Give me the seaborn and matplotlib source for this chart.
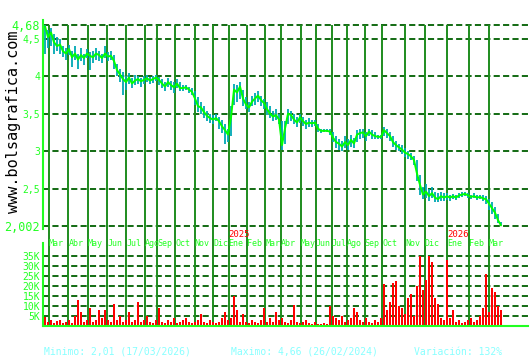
import matplotlib
matplotlib.use("Agg")
import numpy as np
import pandas as pd
import seaborn as sns
import matplotlib.pyplot as plt

# ---------------- data ----------------
close = [4.66, 4.52, 4.58, 4.45, 4.40, 4.42, 4.33, 4.30, 4.36, 4.25,
         4.30, 4.22, 4.28, 4.24, 4.30, 4.27, 4.25, 4.30, 4.28, 4.24,
         4.30, 4.26, 4.27, 4.20, 4.08, 4.02, 3.96, 3.92, 3.98, 3.90,
         3.94, 3.96, 3.93, 3.95, 3.97, 3.94, 3.96, 3.98, 3.95, 3.90,
         3.86, 3.92, 3.88, 3.85, 3.90, 3.84, 3.84, 3.85, 3.82, 3.79,
         3.70, 3.60, 3.58, 3.52, 3.47, 3.44, 3.42, 3.44, 3.40, 3.33,
         3.28, 3.22, 3.45, 3.82, 3.78, 3.86, 3.70, 3.62, 3.58, 3.66,
         3.70, 3.74, 3.68, 3.64, 3.56, 3.50, 3.46, 3.48, 3.42, 3.08,
         3.30, 3.50, 3.48, 3.42, 3.38, 3.45, 3.40, 3.36, 3.38, 3.37,
         3.38, 3.30, 3.27, 3.27, 3.27, 3.26, 3.18, 3.12, 3.10, 3.06,
         3.12, 3.08, 3.15, 3.10, 3.22, 3.24, 3.25, 3.20, 3.26, 3.22,
         3.20, 3.19, 3.19, 3.28, 3.24, 3.20, 3.12, 3.08, 3.05, 3.02,
         2.98, 2.96, 2.93, 2.88, 2.70, 2.55, 2.42, 2.46, 2.40, 2.44,
         2.38, 2.36, 2.40, 2.38, 2.40, 2.38, 2.40, 2.38, 2.41, 2.42,
         2.43, 2.41, 2.39, 2.40, 2.38, 2.39, 2.37, 2.36, 2.30, 2.24,
         2.18, 2.08, 2.01]
high = [4.68, 4.62, 4.64, 4.56, 4.52, 4.50, 4.40, 4.38, 4.42, 4.34,
        4.40, 4.30, 4.38, 4.30, 4.36, 4.32, 4.34, 4.38, 4.34, 4.30,
        4.40, 4.32, 4.34, 4.28, 4.16, 4.10, 4.05, 4.00, 4.04, 3.98,
        4.02, 4.00, 3.98, 4.00, 4.02, 3.99, 4.00, 4.02, 3.99, 3.96,
        3.92, 3.98, 3.94, 3.92, 3.96, 3.92, 3.88, 3.88, 3.86, 3.84,
        3.80, 3.72, 3.66, 3.60, 3.54, 3.50, 3.48, 3.50, 3.46, 3.42,
        3.36, 3.30, 3.60, 3.90, 3.88, 3.92, 3.82, 3.72, 3.66, 3.74,
        3.78, 3.80, 3.74, 3.70, 3.66, 3.60, 3.54, 3.56, 3.50, 3.40,
        3.40, 3.56, 3.54, 3.50, 3.46, 3.50, 3.46, 3.42, 3.44, 3.42,
        3.42, 3.36, 3.30, 3.30, 3.29, 3.30, 3.26, 3.20, 3.16, 3.14,
        3.20, 3.16, 3.22, 3.18, 3.28, 3.30, 3.30, 3.26, 3.30, 3.28,
        3.26, 3.22, 3.22, 3.32, 3.30, 3.26, 3.20, 3.14, 3.10, 3.08,
        3.04, 3.00, 2.98, 2.94, 2.88, 2.68, 2.52, 2.56, 2.50, 2.52,
        2.46, 2.44, 2.46, 2.44, 2.44, 2.42, 2.43, 2.42, 2.44, 2.45,
        2.46, 2.44, 2.42, 2.44, 2.42, 2.42, 2.41, 2.40, 2.36, 2.32,
        2.26, 2.16, 2.06]
low = [4.30, 4.38, 4.40, 4.30, 4.34, 4.30, 4.25, 4.22, 4.28, 4.12,
       4.22, 4.10, 4.20, 4.15, 4.24, 4.08, 4.18, 4.22, 4.20, 4.18,
       4.24, 4.20, 4.22, 4.10, 4.00, 3.92, 3.75, 3.82, 3.90, 3.84,
       3.88, 3.90, 3.86, 3.90, 3.92, 3.90, 3.91, 3.93, 3.88, 3.84,
       3.80, 3.86, 3.82, 3.78, 3.84, 3.80, 3.80, 3.82, 3.78, 3.75,
       3.62, 3.52, 3.50, 3.44, 3.40, 3.38, 3.36, 3.40, 3.30, 3.24,
       3.10, 3.12, 3.20, 3.62, 3.66, 3.70, 3.60, 3.56, 3.52, 3.60,
       3.62, 3.66, 3.60, 3.56, 3.48, 3.44, 3.40, 3.42, 3.36, 3.02,
       3.10, 3.36, 3.40, 3.36, 3.32, 3.38, 3.34, 3.30, 3.32, 3.32,
       3.33, 3.26, 3.24, 3.25, 3.25, 3.22, 3.12, 3.04, 3.02, 3.00,
       3.04, 3.02, 3.06, 3.04, 3.12, 3.16, 3.18, 3.14, 3.20, 3.16,
       3.16, 3.16, 3.16, 3.20, 3.18, 3.14, 3.06, 3.02, 3.00, 2.96,
       2.92, 2.90, 2.88, 2.82, 2.60, 2.42, 2.36, 2.38, 2.34, 2.38,
       2.32, 2.32, 2.34, 2.33, 2.35, 2.34, 2.36, 2.35, 2.37, 2.39,
       2.40, 2.38, 2.36, 2.37, 2.35, 2.36, 2.34, 2.30, 2.22, 2.16,
       2.10, 2.04, 2.01]
volume_k = [4.4, 2, 3, 1.5, 2.5, 3, 1.5, 2, 3, 1.5,
            5, 13, 7, 2, 3, 9, 2, 3, 8, 4,
            8, 3, 2, 11, 3, 5, 2, 3, 7, 2,
            3, 12, 2, 3, 5, 2, 1.5, 3, 9, 2,
            1.5, 3, 2, 4, 1.5, 2, 3, 4, 2, 1.5,
            2, 3, 6, 2, 1.5, 3, 2, 1.5, 2, 4,
            7, 3, 4, 15, 8, 2, 6, 2, 1.5, 3,
            2, 1.5, 3, 9, 2, 4, 2, 7, 3, 4,
            2, 1.5, 3, 10.5, 2, 1.5, 2, 3, 1.5, 1,
            2, 1, 1, 1.5, 1, 10, 5, 4, 3, 5,
            2, 3, 4, 9, 7, 3, 2, 4, 2, 1.5,
            3, 2, 4, 21, 8, 12, 21.5, 22.5, 10, 9,
            6, 14, 16, 5, 20, 35, 18, 23, 35, 32,
            14, 11, 4, 3, 33, 4, 8, 2, 3, 1.5,
            2, 3, 4, 2, 3, 5, 9, 26, 7, 19,
            17, 10, 8]

# month gridline positions (in session index) and their labels
month_pos = [1.3, 7.8, 14.2, 20.8, 27.1, 33.4, 37.4, 43.4, 49.9, 56.1,
             61.2, 67.2, 73.4, 78.6, 85.2, 90.3, 95.6, 100.6, 106.6, 112.4,
             120.1, 126.6, 134.1, 141.2, 147.9]
month_labels = ["Mar", "Abr", "May", "Jun", "Jul", "Ago", "Sep", "Oct", "Nov",
                "Dic", "Ene", "Feb", "Mar", "Abr", "May", "Jun", "Jul", "Ago",
                "Sep", "Oct", "Nov", "Dic", "Ene", "Feb", "Mar"]
year_labels = ["2025", "2026"]
year_month_index = [10, 22]

price_ticks = [2.002, 2.5, 3, 3.5, 4, 4.5, 4.68]
price_tick_labels = ["2,002", "2,5", "3", "3,5", "4", "4,5", "4,68"]
vol_ticks = [5, 10, 15, 20, 25, 30, 35]
vol_tick_labels = ["5K", "10K", "15K", "20K", "25K", "30K", "35K"]

min_text = "Minimo: 2,01 (17/03/2026)"
max_text = "Maximo: 4,66 (26/02/2024)"
var_text = "Variación: 132%"

df = pd.DataFrame({"idx": np.arange(len(close)), "close": close,
                   "high": high, "low": low, "vol": volume_k})

# ---------------- styling ----------------
sns.set_style("white")
plt.rcParams["font.family"] = ["DejaVu Sans Mono", "DejaVu Sans"]

BRIGHT = "#22FF22"
VGRID = "#1E8C1E"
HGRID = "#005F00"
TEAL = "#00A8B4"
CYAN_TXT = "#88FFFF"
DASH = (0, (3.4, 1.8))

W, H = 530, 360
fig = plt.figure(figsize=(W / 100, H / 100), dpi=100)


def rect(l, t, r, b):
    return [l / W, 1 - b / H, (r - l) / W, (b - t) / H]


ax = fig.add_axes(rect(43, 20, 528, 229))
axv = fig.add_axes(rect(43, 229, 528, 326))

xmin, xmax = -0.67, 161
ymin_p, ymax_p = 1.962, 4.747

# ---- price panel ----
for y in price_ticks:
    ax.axhline(y, color=HGRID, lw=1.3, ls=DASH, zorder=1)
ax.vlines(month_pos, ymin_p, 4.68, color=VGRID, lw=1.4, zorder=1)
ax.vlines(df["idx"], df["low"], df["high"], color=TEAL, lw=1.3, zorder=2)
sns.lineplot(data=df, x="idx", y="close", ax=ax, color="#00FF00", lw=1.4, zorder=3)

ax.set_xlim(xmin, xmax)
ax.set_ylim(ymin_p, ymax_p)
ax.set_xticks([])
ax.set_yticks(price_ticks)
ax.set_yticklabels(price_tick_labels)
for lab in ax.get_yticklabels():
    big = lab.get_text() in ("4,68", "2,002")
    lab.set_fontsize(8.5 if big else 7)
    lab.set_color(BRIGHT)
ax.tick_params(axis="y", length=0, pad=2)
ax.set_xlabel("")
ax.set_ylabel("")
for s in ["top", "right", "bottom"]:
    ax.spines[s].set_visible(False)
ax.spines["left"].set_color(BRIGHT)
ax.spines["left"].set_linewidth(1.5)
ax.patch.set_alpha(0)

# ---- volume panel ----
for y in vol_ticks:
    axv.axhline(y, color=HGRID, lw=1.3, ls=DASH, zorder=1)
axv.vlines(month_pos, -0.25, 48.25, color=VGRID, lw=1.4, zorder=1)
sns.barplot(data=df, x="idx", y="vol", ax=axv, native_scale=True, color="#FF0000",
            saturation=1, width=0.6, errorbar=None, linewidth=0, zorder=2)
axv.set_xlim(xmin, xmax)
axv.set_ylim(-0.25, 48.25)
axv.set_xticks([])
axv.set_yticks(vol_ticks)
axv.set_yticklabels(vol_tick_labels)
for lab in axv.get_yticklabels():
    lab.set_fontsize(7)
    lab.set_color(BRIGHT)
axv.tick_params(axis="y", length=0, pad=2)
axv.set_xlabel("")
axv.set_ylabel("")
for s in ["top", "right"]:
    axv.spines[s].set_visible(False)
for s in ["left", "bottom"]:
    axv.spines[s].set_color(BRIGHT)
    axv.spines[s].set_linewidth(1.5)
axv.spines["left"].set_bounds(-0.25, 41.5)
axv.patch.set_alpha(0)

for p, lbl in zip(month_pos, month_labels):
    axv.text(p, 40.8, lbl, ha="left", va="center", fontsize=6, color=BRIGHT, zorder=4)
for yl, mi in zip(year_labels, year_month_index):
    axv.text(month_pos[mi], 45.4, yl, ha="left", va="center", fontsize=6.5,
             color="#FF0000", zorder=4)

# ---- watermark and footer ----
fig.text(14 / W, 1 - 122 / H, "www.bolsagrafica.com", rotation=90, ha="center",
         va="center", fontsize=11, color="black")
fig.text(44 / W, 1 - 352 / H, min_text, ha="left", va="center", fontsize=7, color=CYAN_TXT)
fig.text(231 / W, 1 - 352 / H, max_text, ha="left", va="center", fontsize=7, color=CYAN_TXT)
fig.text(414 / W, 1 - 352 / H, var_text, ha="left", va="center", fontsize=7, color=CYAN_TXT)

fig.savefig("out.png", dpi=100)
